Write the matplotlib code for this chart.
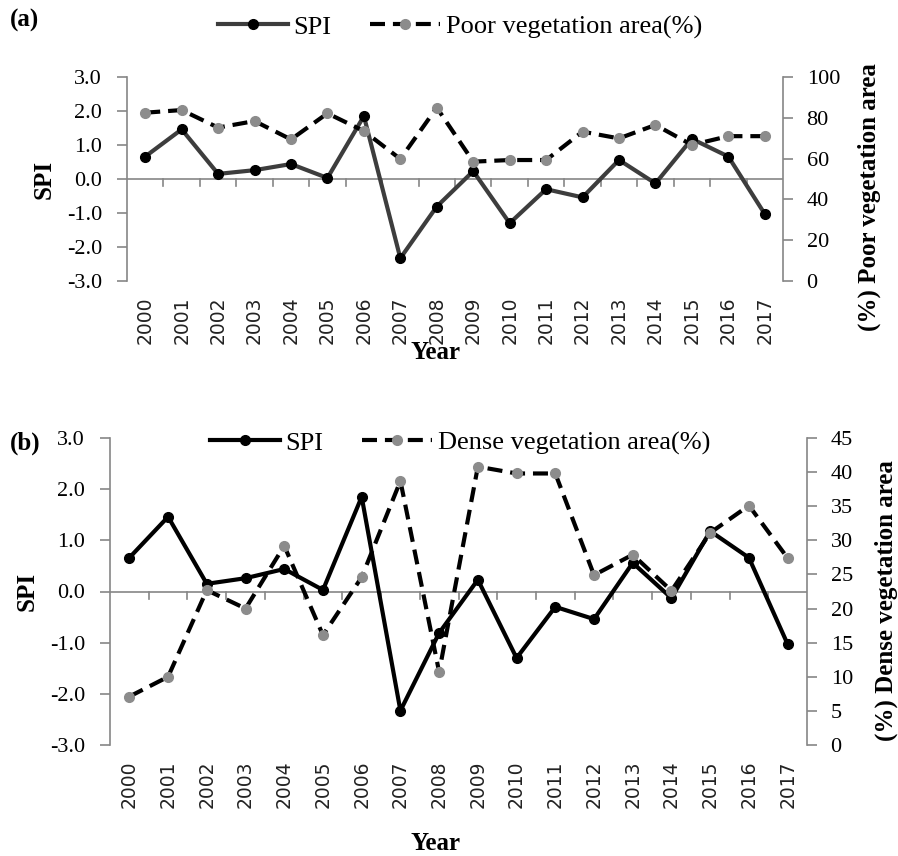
import matplotlib
matplotlib.use("Agg")
import matplotlib.pyplot as plt
import numpy as np

years = [str(y) for y in range(2000, 2018)]
spi = [0.66, 1.46, 0.15, 0.26, 0.44, 0.03, 1.85, -2.33, -0.81, 0.23,
       -1.30, -0.30, -0.54, 0.56, -0.13, 1.18, 0.66, -1.03]
poor_veg = [82.5, 83.8, 75.2, 78.4, 69.4, 82.2, 73.5, 59.8, 85.0, 58.5,
            59.3, 59.3, 73.2, 69.9, 76.5, 66.7, 71.0, 71.0]
dense_veg = [7.1, 10.0, 22.7, 20.0, 29.2, 16.1, 24.6, 38.7, 10.7, 40.8,
             39.8, 39.8, 24.9, 27.9, 22.6, 31.1, 35.1, 27.4]

spi_ticks = [-3.0, -2.0, -1.0, 0.0, 1.0, 2.0, 3.0]
poor_ticks = [0, 20, 40, 60, 80, 100]
dense_ticks = [0, 5, 10, 15, 20, 25, 30, 35, 40, 45]

SERIF = ["Liberation Serif", "DejaVu Serif"]
AXC = "#868686"
W, H = 898, 856

fig = plt.figure(figsize=(W / 100, H / 100), dpi=100)


def rect(l, r, t, b):
    return [l / W, 1 - b / H, (r - l) / W, (b - t) / H]


def panel(pos, spi_color, veg_vals, veg_ticks, veg_max, veg_label, veg_name,
          legend_y, tag, tag_xy, year_y, rlabel_y):
    ax = fig.add_axes(rect(*pos))
    x = np.arange(len(years))
    ax.set_xlim(-0.5, len(years) - 0.5)
    ax.set_ylim(-3, 3)
    l1, = ax.plot(x, spi, color=spi_color, lw=3.0, marker="o", ms=7,
                  mfc="black", mec="black", zorder=3, label="SPI")
    ax.axhline(0, color=AXC, lw=1.2, zorder=1)
    # category boundary ticks hanging below the zero line (~7 px)
    tick_len = 7 * 6.0 / (pos[3] - pos[2])
    for b in np.arange(0.5, len(years) - 1, 1.0):
        ax.plot([b, b], [0, -tick_len], color=AXC, lw=1.2, zorder=1)
    ax.set_yticks(spi_ticks)
    ax.set_yticklabels([f"{v:.1f}" for v in spi_ticks], fontfamily=SERIF,
                       fontsize=16)
    ax.set_xticks(x)
    ax.set_xticklabels(years, rotation=90, fontfamily="DejaVu Sans",
                       fontsize=13.5, color="#222222")
    ax.tick_params(axis="x", length=0, pad=11)
    ax.tick_params(axis="y", direction="out", length=7, width=1.2,
                   color=AXC, pad=11)
    for s in ["top", "right", "bottom"]:
        ax.spines[s].set_visible(False)
    ax.spines["left"].set_color(AXC)
    ax.spines["left"].set_linewidth(1.2)
    ax.set_ylabel("SPI", fontfamily=SERIF, fontweight="bold", fontsize=18,
                  labelpad=8)

    ax2 = ax.twinx()
    ax2.set_ylim(0, veg_max)
    l2, = ax2.plot(x, veg_vals, color="black", lw=3.0, marker="o", ms=7,
                   mfc="#8c8c8c", mec="#8c8c8c", zorder=4, label=veg_name)
    l2.set_dashes([3.6, 1.9])
    ax2.set_yticks(veg_ticks)
    ax2.set_yticklabels([str(v) for v in veg_ticks], fontfamily=SERIF,
                        fontsize=16)
    ax2.tick_params(axis="y", direction="out", length=7, width=1.2,
                    color=AXC, pad=10)
    for s in ["top", "left", "bottom"]:
        ax2.spines[s].set_visible(False)
    ax2.spines["right"].set_color(AXC)
    ax2.spines["right"].set_linewidth(1.2)
    ax2.set_ylabel(veg_label, fontfamily=SERIF, fontweight="bold",
                   fontsize=18)
    ax2.yaxis.set_label_coords(1 + (rlabel_y[0] - pos[1]) / (pos[1] - pos[0]),
                               rlabel_y[1])

    fig.legend(handles=[l1, l2], loc="center", ncol=2,
               bbox_to_anchor=(0.512, 1 - legend_y / H), frameon=False,
               prop={"family": SERIF, "size": 19}, handlelength=2.65,
               handletextpad=0.2, columnspacing=1.5, borderpad=0)
    fig.text(tag_xy[0] / W, 1 - tag_xy[1] / H, tag, fontfamily=SERIF,
             fontweight="bold", fontsize=18, ha="left", va="center")
    fig.text(0.485, 1 - year_y / H, "Year", fontfamily=SERIF,
             fontweight="bold", fontsize=18, ha="center", va="center")
    return ax, ax2


panel((127, 783, 77, 281), "#3d3d3d", poor_veg, poor_ticks, 100,
      "(%) Poor vegetation area", "Poor vegetation area(%)", 27, "(a)",
      (10, 20), 352, (858, 0.41))
panel((110, 807, 438, 745), "black", dense_veg, dense_ticks, 45,
      "(%) Dense vegetation area", "Dense vegetation area(%)", 443, "(b)",
      (10, 443), 843, (875, 0.47))

fig.savefig("out.png", dpi=100)
